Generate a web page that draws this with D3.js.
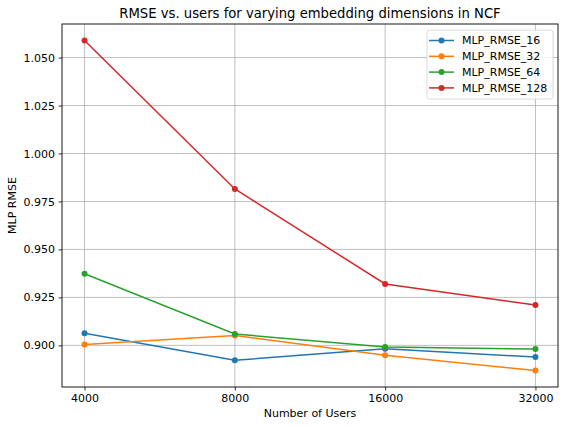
<!DOCTYPE html>
<html lang="en">
  <head>
    <meta charset="utf-8">
    <title>RMSE vs users</title>
    <script type="text/javascript" src="https://cdn.jsdelivr.net/npm/d3@7"></script>
    <style>
      body { margin: 0; background: #fff; }
      text { font-family: "DejaVu Sans", sans-serif; fill: #000; }
    </style>
  </head>
  <body>
    <div class="chart-container"></div>
    <script type="text/javascript">
      var svgW = 566;
      var svgH = 427;

      // data
      var users = [4000, 8000, 16000, 32000];
      var seriesNames = ["MLP_RMSE_16", "MLP_RMSE_32", "MLP_RMSE_64", "MLP_RMSE_128"];
      var rmse16 = [0.9063, 0.8922, 0.8983, 0.8939];
      var rmse32 = [0.9005, 0.9051, 0.8948, 0.8869];
      var rmse64 = [0.9373, 0.9059, 0.8992, 0.8981];
      var rmse128 = [1.0589, 0.9815, 0.9320, 0.9210];
      var yTicks = [0.900, 0.925, 0.950, 0.975, 1.000, 1.025, 1.050];
      var colors = ["#1f77b4", "#ff7f0e", "#2ca02c", "#d62728"];

      var series = [rmse16, rmse32, rmse64, rmse128].map(function (vals, k) {
        return { name: seriesNames[k], color: colors[k], values: vals };
      });

      var m = { left: 62, right: 8, top: 24, bottom: 40 };
      var w = svgW - m.left - m.right;
      var h = svgH - m.top - m.bottom;

      var svg = d3.select(".chart-container")
        .append("svg")
        .attr("width", svgW)
        .attr("height", svgH);

      // log2 x with matplotlib-like 5% margins
      var lx0 = Math.log2(users[0]), lx1 = Math.log2(users[users.length - 1]);
      var padX = (lx1 - lx0) * 0.05;
      var x = d3.scaleLog().base(2)
        .domain([Math.pow(2, lx0 - padX), Math.pow(2, lx1 + padX)])
        .range([0, w]);

      var all = [].concat(rmse16, rmse32, rmse64, rmse128);
      var ymin = d3.min(all), ymax = d3.max(all);
      var padY = (ymax - ymin) * 0.05;
      var y = d3.scaleLinear()
        .domain([ymin - padY, ymax + padY])
        .range([h, 0]);

      var g = svg.append("g").attr("transform", "translate(" + m.left + "," + m.top + ")");

      // grid
      g.append("g").selectAll("line").data(users).enter().append("line")
        .attr("x1", function (d) { return x(d); })
        .attr("x2", function (d) { return x(d); })
        .attr("y1", 0).attr("y2", h)
        .attr("stroke", "#b0b0b0").attr("stroke-width", 0.8);
      g.append("g").selectAll("line").data(yTicks).enter().append("line")
        .attr("y1", function (d) { return y(d); })
        .attr("y2", function (d) { return y(d); })
        .attr("x1", 0).attr("x2", w)
        .attr("stroke", "#b0b0b0").attr("stroke-width", 0.8);

      // axes
      var xAxis = d3.axisBottom(x).tickValues(users).tickFormat(d3.format("d")).tickSize(3.5).tickPadding(3.5);
      var yAxis = d3.axisLeft(y).tickValues(yTicks).tickFormat(d3.format(".3f")).tickSize(3.5).tickPadding(3.5);

      var gx = g.append("g").attr("transform", "translate(0," + h + ")").call(xAxis);
      var gy = g.append("g").call(yAxis);
      [gx, gy].forEach(function (a) {
        a.select(".domain").remove();
        a.selectAll("line").attr("stroke", "#000").attr("stroke-width", 0.8);
        a.selectAll("text").style("font-family", "DejaVu Sans, sans-serif")
          .style("font-size", "11px").attr("fill", "#000");
      });

      g.append("rect").attr("width", w).attr("height", h)
        .attr("fill", "none").attr("stroke", "#000").attr("stroke-width", 0.9);

      // lines + markers
      var line = d3.line()
        .x(function (d, i) { return x(users[i]); })
        .y(function (d) { return y(d); });

      series.forEach(function (s) {
        g.append("path").datum(s.values)
          .attr("d", line)
          .attr("fill", "none")
          .attr("stroke", s.color)
          .attr("stroke-width", 1.5);
        g.append("g").selectAll("circle").data(s.values).enter().append("circle")
          .attr("cx", function (d, i) { return x(users[i]); })
          .attr("cy", function (d) { return y(d); })
          .attr("r", 3)
          .attr("fill", s.color);
      });

      // titles
      svg.append("text").attr("x", m.left + w / 2).attr("y", 18)
        .attr("text-anchor", "middle").style("font-size", "13.2px")
        .text("RMSE vs. users for varying embedding dimensions in NCF");
      svg.append("text").attr("x", m.left + w / 2).attr("y", 417)
        .attr("text-anchor", "middle").style("font-size", "11px")
        .text("Number of Users");
      svg.append("text")
        .attr("transform", "translate(16," + (m.top + h / 2) + ") rotate(-90)")
        .attr("text-anchor", "middle").style("font-size", "11px")
        .text("MLP RMSE");

      // legend
      var lg = svg.append("g").attr("transform", "translate(427,30)");
      lg.append("rect").attr("width", 126).attr("height", 69).attr("rx", 2.5)
        .attr("fill", "#fff").attr("fill-opacity", 0.8)
        .attr("stroke", "#d0d0d0").attr("stroke-width", 0.8);
      series.forEach(function (s, i) {
        var yy = 10.5 + i * 15.8;
        lg.append("line").attr("x1", 2).attr("x2", 27).attr("y1", yy).attr("y2", yy)
          .attr("stroke", s.color).attr("stroke-width", 1.5);
        lg.append("circle").attr("cx", 14.5).attr("cy", yy).attr("r", 3).attr("fill", s.color);
        lg.append("text").attr("x", 35).attr("y", yy + 3.8).style("font-size", "11px").text(s.name);
      });
    </script>
  </body>
</html>
